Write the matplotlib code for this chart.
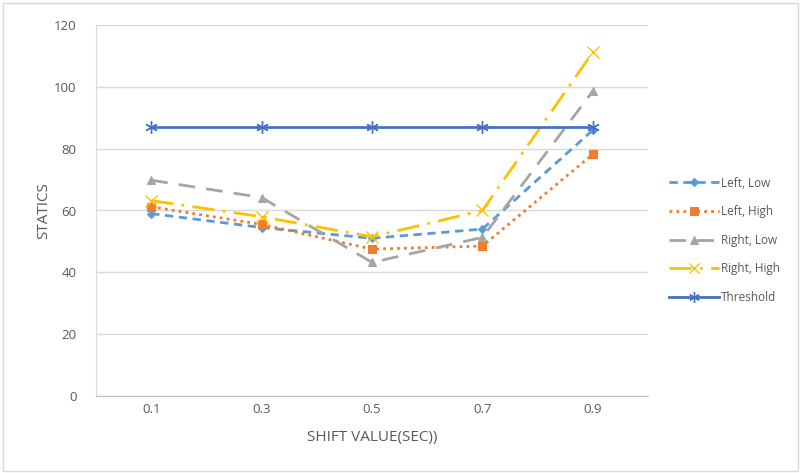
import matplotlib
matplotlib.use("Agg")
import matplotlib.pyplot as plt
from matplotlib.patches import Rectangle

categories = ["0.1", "0.3", "0.5", "0.7", "0.9"]
left_low = [59, 54.5, 51, 54, 86]
left_high = [61.2, 55.5, 47.5, 48.5, 78.2]
right_low = [69.8, 64.2, 43.2, 51.3, 98.6]
right_high = [63.2, 58, 51.5, 60, 111.2]
threshold = [87, 87, 87, 87, 87]

plt.rcParams['font.family'] = ['Open Sans', 'DejaVu Sans']

fig = plt.figure(figsize=(8.01, 4.73), dpi=100)
fig.patches.append(Rectangle((0.004, 0.004), 0.992, 0.99, transform=fig.transFigure,
                             fill=False, edgecolor='#d9d9d9', linewidth=1))
ax = fig.add_axes([96/801, 77/473, 552/801, 371/473])

x = list(range(len(categories)))
series = [
    ("Left, Low", left_low, '#5B9BD5', (0, (3, 2)), 'D', 4.5),
    ("Left, High", left_high, '#ED7D31', (0, (1, 1.5)), 's', 6),
    ("Right, Low", right_low, '#A5A5A5', (0, (6, 4)), '^', 6),
    ("Right, High", right_high, '#FFC000', (0, (8, 3, 1, 3)), 'x', 8),
    ("Threshold", threshold, '#4472C4', '-', (6, 2, 0), 9),
]
for label, vals, color, ls, marker, ms in series:
    ax.plot(x, vals, color=color, linestyle=ls, linewidth=2, marker=marker,
            markersize=ms, markeredgewidth=1 if marker in ('x', (6, 2, 0)) else 0.8,
            markeredgecolor=color, markerfacecolor=color, label=label)

ax.set_xlim(-0.5, len(categories) - 0.5)
ax.set_ylim(0, 120)
ax.set_yticks(range(0, 121, 20))
ax.set_xticks(x)
ax.set_xticklabels(categories)
ax.grid(axis='y', color='#d9d9d9', linewidth=1)
ax.set_axisbelow(True)
for side in ('top', 'right'):
    ax.spines[side].set_visible(False)
ax.spines['left'].set_color('#d9d9d9')
ax.spines['bottom'].set_color('#bfbfbf')
ax.tick_params(axis='both', length=0, colors='#595959', labelsize=9.5)
ax.tick_params(axis='y', pad=14)
ax.tick_params(axis='x', pad=5)
ax.set_ylabel("STATICS", color='#595959', fontsize=11, labelpad=2)
ax.set_xlabel("SHIFT VALUE(SEC))", color='#595959', fontsize=11, labelpad=10)

leg = ax.legend(loc='center left', bbox_to_anchor=(1.03, 0.42), frameon=False,
                fontsize=8.5, labelcolor='#595959', handlelength=4.2,
                handletextpad=0.2, labelspacing=1.32, borderaxespad=0,
                markerscale=0.85)

fig.savefig("out.png", dpi=100)
